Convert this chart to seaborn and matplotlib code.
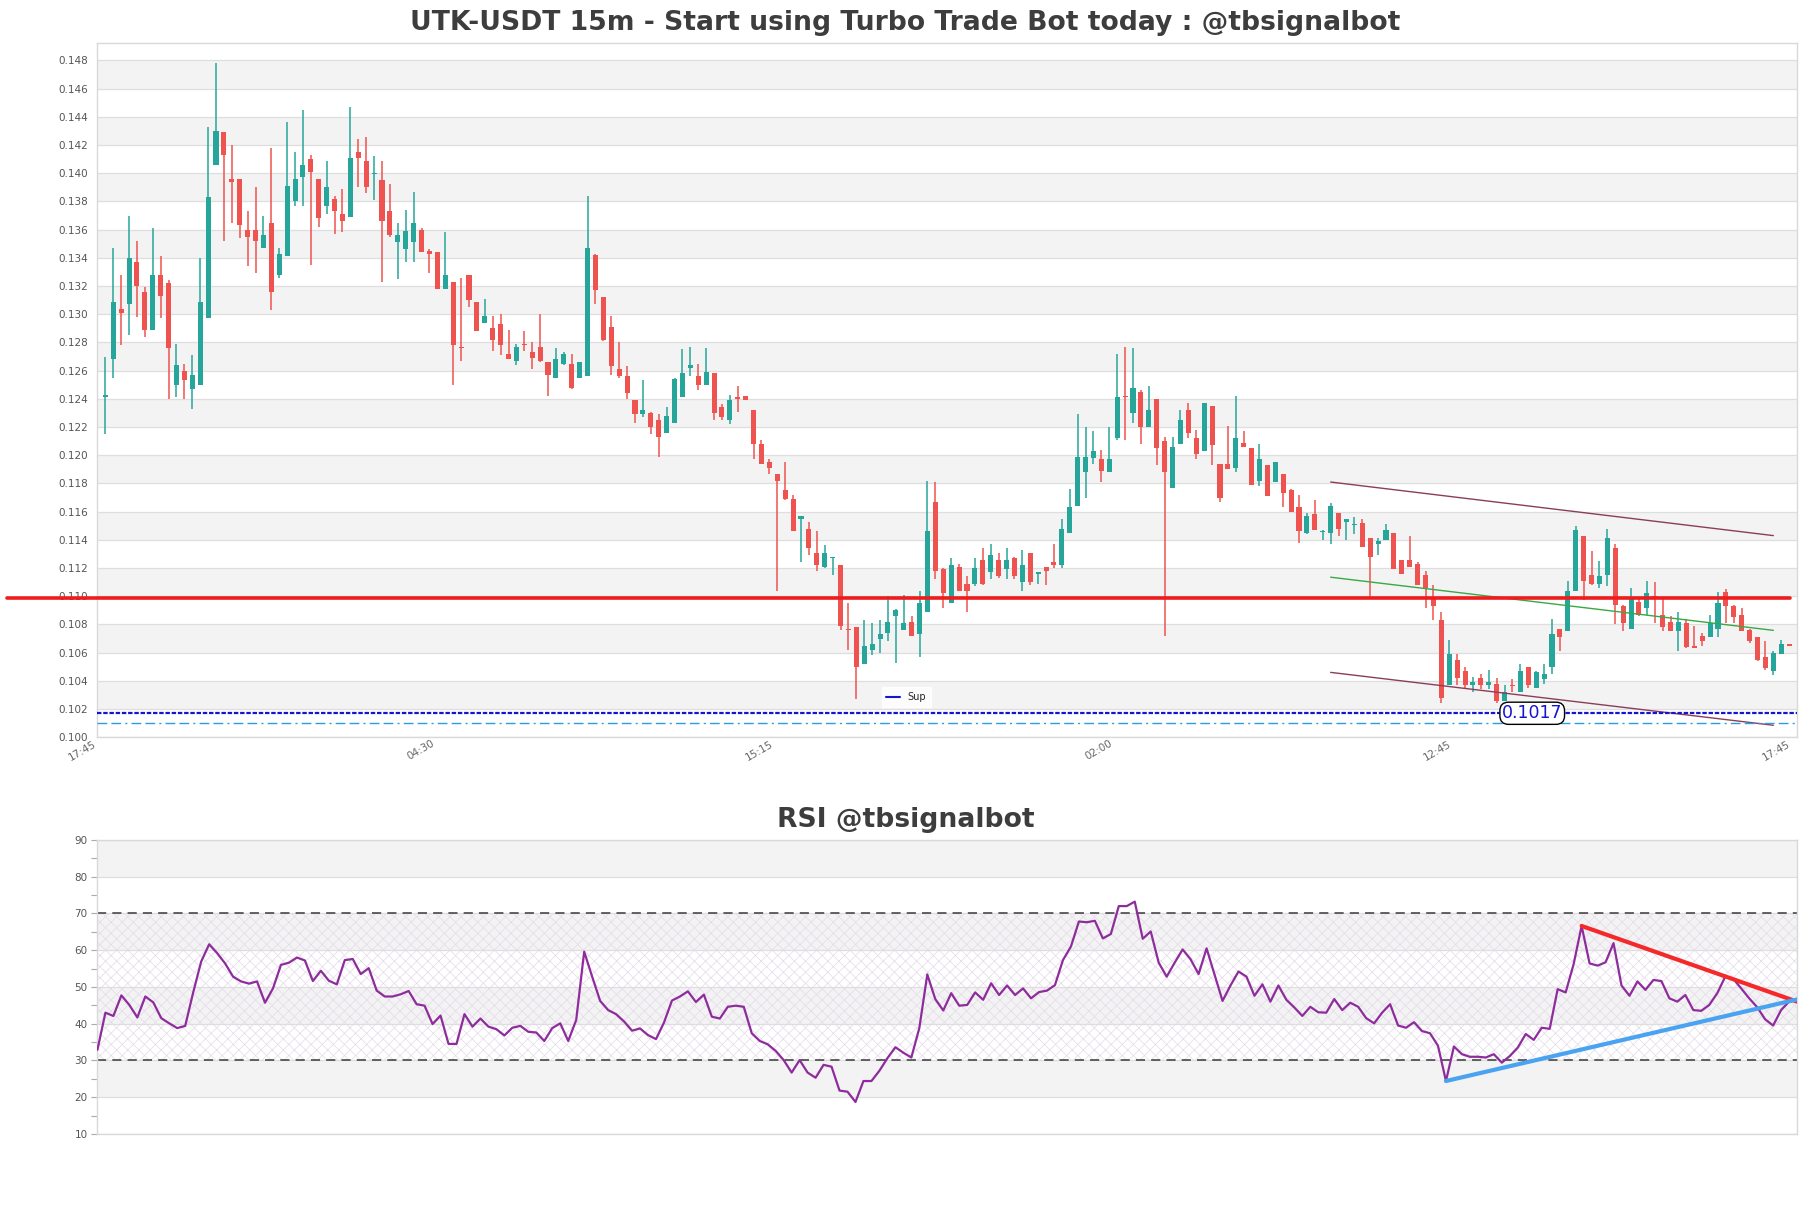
import numpy as np
import pandas as pd
import matplotlib
matplotlib.use("Agg")
import matplotlib.pyplot as plt
from matplotlib.lines import Line2D
import seaborn as sns

# ---------------- data ----------------
opens = [0.1241,0.1268,0.1304,0.1307,0.1337,0.1316,0.1289,0.1328,0.1322,0.1250,
         0.1260,0.1247,0.1250,0.1297,0.1406,0.1429,0.1396,0.1396,0.1360,0.1360,
         0.1347,0.1365,0.1328,0.1341,0.1380,0.1397,0.1410,0.1396,0.1377,0.1382,
         0.1371,0.1369,0.1415,0.1409,0.13995,0.1395,0.1373,0.1351,0.1346,0.1351,
         0.1360,0.1345,0.1344,0.1318,0.1323,0.1277,0.1328,0.1309,0.1294,0.1290,
         0.1293,0.1272,0.1267,0.1279,0.1273,0.1277,0.1266,0.1255,0.1265,0.1265,
         0.1255,0.1256,0.1342,0.1312,0.1291,0.1261,0.1256,0.1239,0.1229,0.1230,
         0.1225,0.1216,0.1223,0.1241,0.1262,0.1256,0.1250,0.1258,0.1234,0.1225,
         0.1241,0.1242,0.1232,0.1208,0.1195,0.1187,0.1175,0.1169,0.1155,0.1148,
         0.1131,0.1121,0.1127,0.1122,0.1077,0.1078,0.1052,0.1062,0.1070,0.1074,
         0.1086,0.1076,0.1082,0.1073,0.1089,0.1167,0.1119,0.1095,0.1121,0.1109,
         0.1109,0.1126,0.1117,0.1126,0.1119,0.1127,0.1110,0.1131,0.1116,0.1121,
         0.1124,0.1122,0.1145,0.1164,0.1188,0.1198,0.1197,0.1188,0.1212,0.1242,
         0.1230,0.1245,0.1220,0.1240,0.1210,0.1177,0.1208,0.1232,0.1212,0.1203,
         0.1235,0.1194,0.1194,0.1191,0.1209,0.1205,0.1182,0.1193,0.1181,0.1187,
         0.1175,0.1163,0.1145,0.1158,0.11455,0.1145,0.1159,0.1153,0.11505,0.1152,
         0.1141,0.1137,0.1140,0.1145,0.1126,0.1126,0.1123,0.1115,0.1099,0.1083,
         0.1037,0.1055,0.1047,0.1037,0.1042,0.1037,0.1038,0.1026,0.1037,0.1032,
         0.1050,0.1035,0.1041,0.1050,0.1077,0.1075,0.1104,0.1143,0.1115,0.1109,
         0.1115,0.1134,0.1093,0.1077,0.1096,0.1092,0.1100,0.1087,0.1082,0.1075,
         0.1081,0.1065,0.1072,0.1071,0.1077,0.1103,0.1093,0.1087,0.1076,0.1071,
         0.1057,0.1047,0.1059,0.1066]
highs = [0.1270,0.1347,0.1328,0.1370,0.1352,0.1319,0.1361,0.1341,0.1324,0.1279,
         0.1265,0.1271,0.1340,0.1433,0.1478,0.1429,0.1420,0.1396,0.1373,0.1390,
         0.1370,0.1418,0.1347,0.1436,0.1415,0.1445,0.1413,0.1396,0.1409,0.1384,
         0.1389,0.1447,0.1424,0.1426,0.1412,0.1409,0.1392,0.1365,0.1374,0.1387,
         0.1361,0.1346,0.1344,0.1358,0.1323,0.1326,0.1328,0.1309,0.1311,0.1299,
         0.1300,0.1289,0.1279,0.1288,0.1280,0.1300,0.1266,0.1276,0.1273,0.1272,
         0.1266,0.1384,0.1343,0.1312,0.1299,0.1280,0.1263,0.1239,0.1253,0.1231,
         0.1229,0.1234,0.1255,0.1275,0.1277,0.1265,0.1276,0.1258,0.1236,0.1243,
         0.1249,0.1242,0.1232,0.1211,0.1197,0.1187,0.1195,0.1172,0.1157,0.1153,
         0.1146,0.1136,0.1128,0.1122,0.1095,0.1078,0.1083,0.1081,0.1083,0.1100,
         0.1091,0.1101,0.1086,0.1104,0.1182,0.1181,0.1120,0.1127,0.1123,0.1114,
         0.1127,0.1134,0.1137,0.1131,0.1134,0.1128,0.1133,0.1131,0.1117,0.1121,
         0.1137,0.1155,0.1176,0.1229,0.1220,0.1217,0.1204,0.1220,0.1272,0.1277,
         0.1276,0.1246,0.1249,0.1240,0.1213,0.1213,0.1232,0.1237,0.1218,0.1237,
         0.1235,0.1194,0.1221,0.1242,0.1217,0.1205,0.1208,0.1193,0.1195,0.1187,
         0.1176,0.1172,0.1159,0.1168,0.1147,0.1166,0.1159,0.1155,0.1156,0.1155,
         0.1141,0.1141,0.1151,0.1145,0.1126,0.1143,0.1124,0.1118,0.1108,0.1089,
         0.1069,0.1059,0.1050,0.1043,0.1045,0.1048,0.1042,0.1037,0.1041,0.1052,
         0.1050,0.1047,0.1052,0.1084,0.1077,0.1111,0.1150,0.1143,0.1132,0.1125,
         0.1148,0.1137,0.1094,0.1106,0.1099,0.1111,0.1110,0.1098,0.1086,0.1089,
         0.1084,0.1079,0.1074,0.1087,0.1103,0.1105,0.1094,0.1092,0.1077,0.1071,
         0.1068,0.1061,0.1069,0.1066]
lows = [0.1215,0.1255,0.1278,0.1285,0.1298,0.1284,0.1289,0.1297,0.1240,0.1241,
        0.1240,0.1233,0.1250,0.1297,0.1406,0.1352,0.1365,0.1354,0.1334,0.1329,
        0.1347,0.1303,0.1326,0.1341,0.1377,0.1377,0.1335,0.1362,0.1371,0.1357,
        0.1358,0.1369,0.1390,0.1386,0.1381,0.1323,0.1355,0.1325,0.1337,0.1337,
        0.1344,0.1329,0.1318,0.1318,0.1250,0.1267,0.1305,0.1288,0.1294,0.1274,
        0.1271,0.1268,0.1264,0.1274,0.1261,0.1266,0.1242,0.1255,0.1264,0.1247,
        0.1255,0.1256,0.1307,0.1281,0.1257,0.1255,0.1240,0.1223,0.1227,0.1215,
        0.1199,0.1216,0.1223,0.1241,0.1256,0.1246,0.1250,0.1225,0.1225,0.1222,
        0.1231,0.1239,0.1197,0.1194,0.1187,0.1104,0.1168,0.1146,0.1124,0.1129,
        0.1118,0.1120,0.1115,0.1076,0.1062,0.1027,0.1052,0.1058,0.1060,0.1068,
        0.1053,0.1076,0.1072,0.1057,0.1089,0.1112,0.1092,0.1095,0.1104,0.1089,
        0.1107,0.1108,0.1112,0.1113,0.1112,0.1112,0.1104,0.1108,0.1109,0.1108,
        0.1120,0.1120,0.1145,0.1164,0.1170,0.1194,0.1181,0.1188,0.1211,0.1211,
        0.1223,0.1208,0.1220,0.1193,0.1072,0.1177,0.1208,0.1212,0.1197,0.1203,
        0.1193,0.1167,0.1190,0.1188,0.1206,0.1179,0.1178,0.1171,0.1181,0.1163,
        0.1160,0.1138,0.1144,0.1147,0.1140,0.1137,0.1143,0.1140,0.1144,0.1135,
        0.1099,0.1129,0.1140,0.1119,0.1116,0.1121,0.1108,0.1092,0.1083,0.1024,
        0.1037,0.1037,0.1035,0.1032,0.1034,0.1034,0.1024,0.1026,0.1032,0.1032,
        0.1035,0.1035,0.1038,0.1045,0.1061,0.1075,0.1104,0.1097,0.1108,0.1106,
        0.1107,0.1080,0.1075,0.1077,0.1086,0.1087,0.1081,0.1075,0.1075,0.1061,
        0.1063,0.1063,0.1065,0.1071,0.1071,0.1081,0.1081,0.1075,0.1067,0.1054,
        0.1048,0.1044,0.1059,0.1065]
closes = [0.1243,0.1309,0.1301,0.1340,0.1320,0.1289,0.1328,0.1313,0.1276,0.1264,
          0.1253,0.1257,0.1309,0.1383,0.1430,0.1413,0.1394,0.1363,0.1355,0.1352,
          0.1356,0.1316,0.1343,0.1391,0.1396,0.1406,0.1401,0.1368,0.1390,0.1373,
          0.1366,0.1411,0.1411,0.1390,0.14005,0.1366,0.1356,0.1356,0.1359,0.1365,
          0.1344,0.1343,0.1318,0.1328,0.1278,0.1276,0.1310,0.1288,0.1299,0.1282,
          0.1278,0.1268,0.1277,0.1278,0.1269,0.1267,0.1257,0.1268,0.1272,0.1248,
          0.1266,0.1347,0.1317,0.1282,0.1263,0.1256,0.1244,0.1229,0.1232,0.1220,
          0.1213,0.1228,0.1254,0.1258,0.1264,0.1250,0.1259,0.1230,0.1227,0.1239,
          0.1240,0.1239,0.1208,0.1194,0.1191,0.1182,0.1169,0.1146,0.1157,0.1134,
          0.1122,0.1131,0.1128,0.1079,0.1076,0.1050,0.1065,0.1066,0.1073,0.1082,
          0.1090,0.1081,0.1072,0.1095,0.1146,0.1118,0.1102,0.1122,0.1104,0.1104,
          0.1120,0.1109,0.1129,0.1114,0.1126,0.1114,0.1122,0.1110,0.1117,0.1118,
          0.1122,0.1148,0.1163,0.1199,0.1199,0.1203,0.1189,0.1197,0.1241,0.1241,
          0.1248,0.1220,0.1232,0.1205,0.1188,0.1206,0.1225,0.1216,0.1201,0.1237,
          0.1207,0.1170,0.1190,0.1212,0.1206,0.1179,0.1197,0.1171,0.1195,0.1173,
          0.1160,0.1146,0.1157,0.1147,0.11465,0.1164,0.1148,0.1155,0.11515,0.1135,
          0.1128,0.1139,0.1147,0.1119,0.1116,0.1121,0.1108,0.1106,0.1093,0.1028,
          0.1059,0.1042,0.1037,0.1039,0.1037,0.1039,0.1026,0.1032,0.10365,0.1047,
          0.1037,0.1046,0.1045,0.1073,0.1071,0.1104,0.1147,0.1111,0.1109,0.1114,
          0.1141,0.1094,0.1081,0.1098,0.1087,0.1102,0.1099,0.1078,0.1075,0.1082,
          0.1064,0.1063,0.1068,0.1081,0.1095,0.1093,0.1085,0.1075,0.1068,0.1055,
          0.1049,0.1060,0.1066,0.1065]

rsi = [32.9,43.0,42.1,47.7,45.1,41.7,47.4,45.8,41.5,40.1,
       38.8,39.4,48.5,56.9,61.6,59.2,56.4,52.8,51.5,50.9,
       51.5,45.7,49.6,56.0,56.6,58.0,57.2,51.6,54.4,51.7,
       50.7,57.3,57.6,53.5,55.1,49.0,47.4,47.4,48.0,48.9,
       45.3,44.9,39.9,42.2,34.5,34.5,42.6,39.2,41.4,39.2,
       38.5,36.8,38.9,39.4,37.8,37.6,35.3,38.8,40.1,35.3,
       41.0,59.6,52.8,46.2,43.7,42.6,40.6,38.1,38.7,36.9,
       35.8,40.3,46.3,47.4,48.8,45.9,47.9,41.9,41.4,44.6,
       44.9,44.6,37.4,35.3,34.4,32.6,30.1,26.7,30.1,26.7,
       25.3,28.8,28.3,21.8,21.5,18.7,24.4,24.4,27.2,30.6,
       33.6,32.1,30.8,38.8,53.4,46.7,43.6,48.3,44.9,45.1,
       48.5,46.5,51.0,47.8,50.4,47.8,49.6,46.9,48.6,49.0,
       50.5,57.3,61.0,67.8,67.6,68.0,63.2,64.4,72.0,72.0,
       73.2,63.1,65.1,56.6,52.8,56.6,60.2,57.5,53.5,60.5,
       53.3,46.2,50.4,54.2,52.8,47.6,50.7,46.0,50.4,46.5,
       44.4,42.1,44.6,43.1,43.0,46.7,43.7,45.7,44.6,41.5,
       40.1,43.0,45.3,39.5,38.9,40.4,38.0,37.4,34.0,24.4,
       33.8,31.7,31.0,31.0,30.8,31.7,29.4,31.2,33.5,37.2,
       35.6,38.9,38.6,49.4,48.5,56.2,66.6,56.4,55.8,56.7,
       61.9,50.4,47.6,51.5,49.2,51.9,51.6,46.9,46.0,47.8,
       43.7,43.5,45.1,48.3,52.8,52.2,49.6,46.9,44.5,41.2,
       39.5,43.7,46.0,46.5]

tick_labels = ["17:45", "04:30", "15:15", "02:00", "12:45", "17:45"]
price_ticks = [0.100 + 0.002 * k for k in range(25)]
rsi_ticks = [10, 20, 30, 40, 50, 60, 70, 80, 90]

resistance_level = 0.10985
support_level = 0.1017
support2_level = 0.1010
channel_x = [155, 211]
channel_upper = [0.1181, 0.1143]
channel_mid = [0.11135, 0.10758]
channel_lower = [0.1046, 0.10085]
rsi_down_x = [186, 213]
rsi_down_y = [66.6, 46.0]
rsi_up_x = [169, 213]
rsi_up_y = [24.4, 46.6]

df = pd.DataFrame({"open": opens, "high": highs, "low": lows, "close": closes})
df["i"] = np.arange(len(df))
rsi_df = pd.DataFrame({"i": np.arange(len(rsi)), "rsi": rsi})

# ---------------- styling ----------------
sns.set_theme(style="white")
plt.rcParams["font.family"] = ["DejaVu Sans"]
plt.rcParams["hatch.linewidth"] = 0.5

UP = "#26a69a"
DOWN = "#ef5350"
BAND = "#f3f3f3"
GRID = "#dedede"
SPINE = "#d9d9d9"
TXT = "#555555"

fig = plt.figure(figsize=(18.11, 12.08), dpi=100)
ax = fig.add_axes([0.0538, 0.3897, 0.9385, 0.5743])
ax2 = fig.add_axes([0.0538, 0.0613, 0.9385, 0.2434])

# ---------------- main chart ----------------
ax.set_xlim(-1, 214)
ax.set_ylim(0.100, 0.1492)
for k in range(len(price_ticks) - 1):
    if k % 2 == 1:
        ax.axhspan(price_ticks[k], price_ticks[k + 1], color=BAND, lw=0, zorder=0)
for p in price_ticks:
    ax.axhline(p, color=GRID, lw=0.9, zorder=0.5)

up = df["close"] >= df["open"]
colors = np.where(up, UP, DOWN)
body_h = np.maximum((df["close"] - df["open"]).abs(), 0.00008)
body_b = np.minimum(df["open"], df["close"])
ax.vlines(df["i"], df["low"], df["high"], colors=colors, lw=1.1, zorder=2)
ax.bar(df["i"], body_h, bottom=body_b, width=0.64, color=colors, lw=0, zorder=3)

ax.plot(channel_x, channel_upper, color="#8b3d5c", lw=1.0, zorder=4)
ax.plot(channel_x, channel_lower, color="#8b3d5c", lw=1.0, zorder=4)
ax.plot(channel_x, channel_mid, color="#3aa845", lw=1.0, zorder=4)

ax.plot([-12.4, 213.1], [resistance_level, resistance_level], color="#ee1c1c",
        lw=2.6, zorder=5, clip_on=False)
ax.axhline(support_level, color="#1515d0", lw=1.6, ls=(0, (2, 0.8)), zorder=5)
ax.axhline(support2_level, color="#2a9fe0", lw=1.0, ls=(0, (7, 3, 7, 3, 1.5, 3)), zorder=5)
ax.text(180.5, support_level, "0.1017", color="#1515d0", fontsize=12.5,
        ha="center", va="center", zorder=6,
        bbox=dict(boxstyle="round,pad=0.12,rounding_size=0.5", fc="white", ec="black", lw=1))

leg = ax.legend(handles=[Line2D([0], [0], color="#1515d0", lw=1.5)], labels=["Sup"],
                loc="center", bbox_to_anchor=(0.476, 0.058), fontsize=7,
                frameon=True, handlelength=1.4, borderpad=0.5, fancybox=False)
leg.get_frame().set_edgecolor("white")
leg.get_frame().set_facecolor("white")

ax.set_yticks(price_ticks)
ax.set_yticklabels([f"{p:.3f}" for p in price_ticks])
ax.set_xticks(np.linspace(-1, 213.4, 6))
ax.set_xticklabels(tick_labels, rotation=30, ha="right")
ax.tick_params(axis="y", length=0, pad=7, labelsize=7.5, labelcolor=TXT)
ax.tick_params(axis="x", length=0, pad=1, labelsize=7.5, labelcolor="#666666")
for s in ax.spines.values():
    s.set_color(SPINE)
    s.set_linewidth(1)
ax.set_xlabel("")
ax.set_ylabel("")

# ---------------- RSI ----------------
ax2.set_xlim(0, len(rsi) - 1)
ax2.set_ylim(10, 90)
for lo in [20, 40, 60, 80]:
    ax2.axhspan(lo, lo + 10, color=BAND, lw=0, zorder=0)
for t in rsi_ticks:
    ax2.axhline(t, color=GRID, lw=0.9, zorder=0.5)
ax2.fill_between([0, len(rsi) - 1], 30, 70, facecolor="none", edgecolor="#e4daea",
                 hatch="xxx", lw=0, zorder=1)
ax2.axhline(70, color="#3a3a3a", lw=1.1, ls=(0, (6, 4)), zorder=2)
ax2.axhline(30, color="#3a3a3a", lw=1.1, ls=(0, (6, 4)), zorder=2)
sns.lineplot(data=rsi_df, x="i", y="rsi", ax=ax2, color="#8e2c9c", lw=1.6, zorder=3)
ax2.plot(rsi_down_x, rsi_down_y, color="#f42a2a", lw=3, zorder=4, solid_capstyle="round")
ax2.plot(rsi_up_x, rsi_up_y, color="#4aa3f0", lw=3, zorder=4, solid_capstyle="round")

ax2.set_yticks(rsi_ticks)
ax2.set_yticks([15, 25, 35, 45, 55, 65, 75, 85], minor=True)
ax2.set_xticks([])
ax2.tick_params(axis="y", which="both", left=True, length=4, width=0.8,
                color="#aaaaaa", pad=3, labelsize=7.5, labelcolor=TXT)
for s in ax2.spines.values():
    s.set_color(SPINE)
    s.set_linewidth(1)
ax2.set_xlabel("")
ax2.set_ylabel("")

fig.text(0.5, 0.981, "UTK-USDT 15m - Start using Turbo Trade Bot today : @tbsignalbot",
         ha="center", va="center", fontsize=19.2, fontweight="bold", color="#3d3d3d")
fig.text(0.5, 0.3212, "RSI @tbsignalbot", ha="center", va="center",
         fontsize=19.2, fontweight="bold", color="#3d3d3d")

fig.savefig("out.png", dpi=100)
